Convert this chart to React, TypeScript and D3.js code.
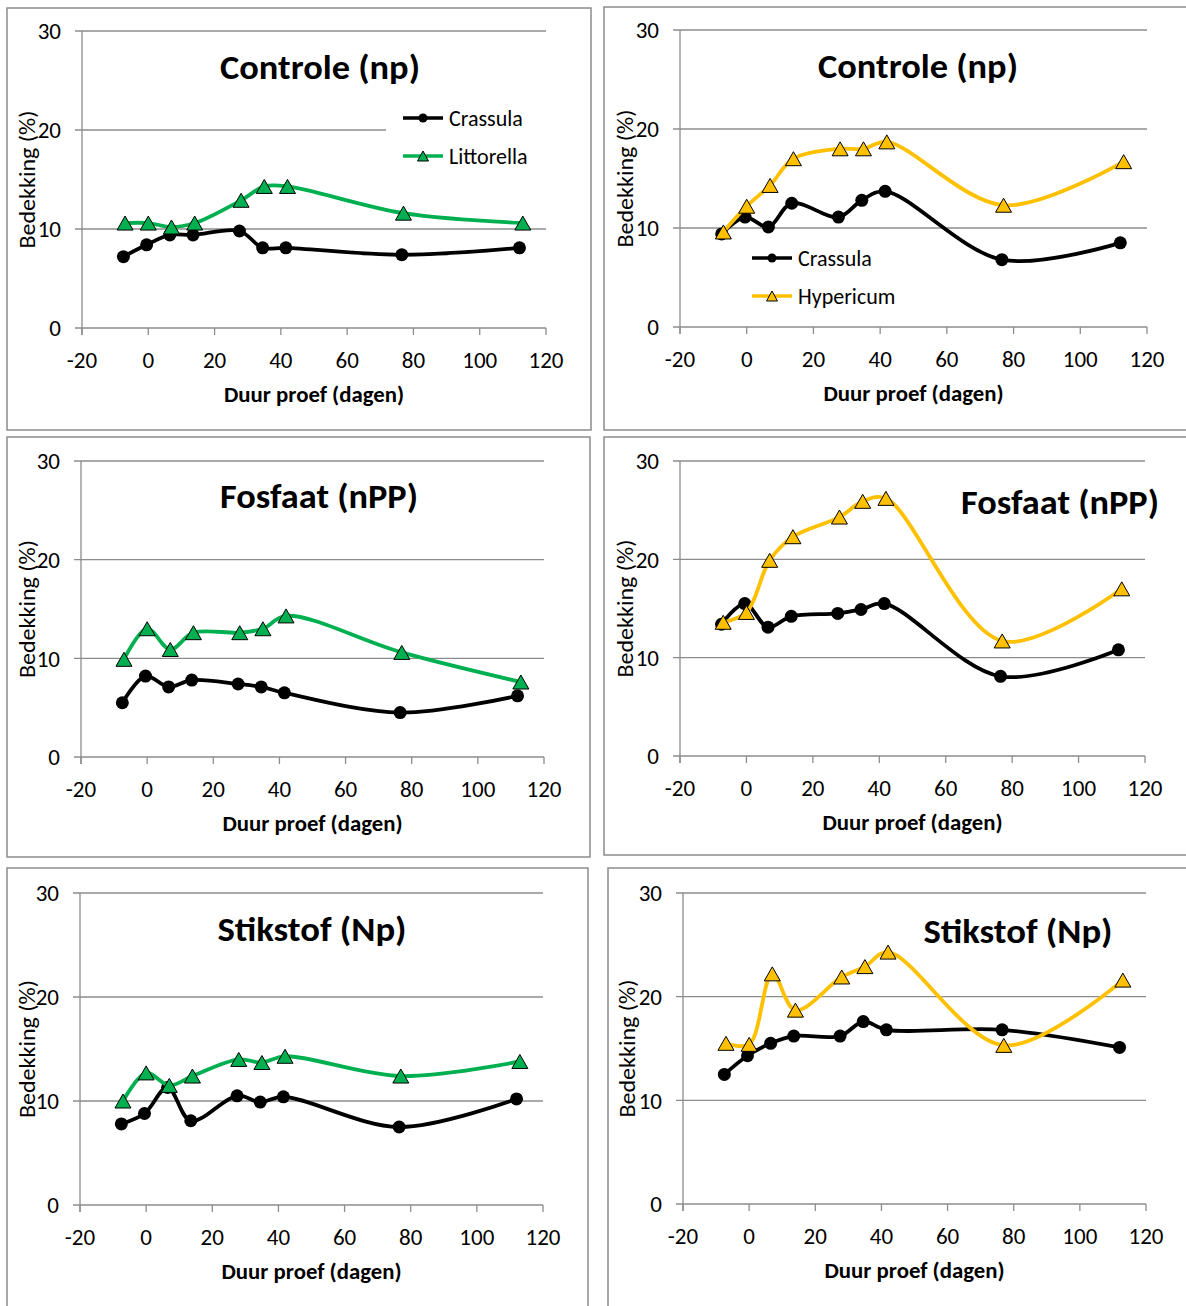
import React from "react";
import * as d3 from "d3";

// ---------- DATA ----------
const xTicks = [-20, 0, 20, 40, 60, 80, 100, 120];
const yTicks = [0, 10, 20, 30];
const daysCrassula = [-7.5, -0.5, 6.5, 13.5, 27.5, 34.5, 41.5, 76.5, 112];
const daysOther = [-7, 0, 7, 14, 28, 35, 42, 77, 113];

const controleLeftCrassula = [7.2, 8.4, 9.4, 9.4, 9.8, 8.1, 8.1, 7.4, 8.1];
const controleLeftLittorella = [10.6, 10.6, 10.2, 10.6, 12.9, 14.3, 14.3, 11.6, 10.6];
const controleRightCrassula = [9.4, 11.1, 10.1, 12.5, 11.1, 12.8, 13.7, 6.8, 8.5];
const controleRightHypericum = [9.6, 12.2, 14.3, 17.0, 18.0, 18.0, 18.7, 12.3, 16.7];
const fosfaatLeftCrassula = [5.5, 8.2, 7.1, 7.8, 7.4, 7.1, 6.5, 4.5, 6.2];
const fosfaatLeftLittorella = [9.9, 13.0, 10.9, 12.6, 12.6, 13.0, 14.3, 10.6, 7.6];
const fosfaatRightCrassula = [13.4, 15.5, 13.1, 14.2, 14.5, 14.9, 15.5, 8.1, 10.8];
const fosfaatRightHypericum = [13.6, 14.6, 19.9, 22.3, 24.3, 25.9, 26.2, 11.7, 17.0];
const stikstofLeftCrassula = [7.8, 8.8, 11.3, 8.1, 10.5, 9.9, 10.4, 7.5, 10.2];
const stikstofLeftLittorella = [10.0, 12.7, 11.5, 12.4, 14.0, 13.7, 14.3, 12.4, 13.8];
const stikstofRightCrassula = [12.5, 14.3, 15.5, 16.2, 16.2, 17.6, 16.8, 16.8, 15.1];
const stikstofRightHypericum = [15.5, 15.4, 22.2, 18.7, 21.9, 22.9, 24.3, 15.3, 21.6];

const titles = ["Controle (np)", "Controle (np)", "Fosfaat (nPP)", "Fosfaat (nPP)", "Stikstof (Np)", "Stikstof (Np)"];
const seriesNames = ["Crassula", "Littorella", "Hypericum"];
const xTitle = "Duur proef (dagen)";
const yTitle = "Bedekking (%)";

// ---------- STYLE ----------
const FONT = "Carlito, Calibri, Lato, 'Open Sans', sans-serif";
const GRID = "#8c8c8c";
const BORDER = "#8c8c8c";
const BLACK = "#000000";
const GREEN = "#00B050";
const AMBER = "#FFC000";

type PanelCfg = {
  box: { x: number; y: number; w: number; h: number };
  plot: { x0: number; x1: number; yTop: number; yBottom: number };
  title: string;
  titleX: number;
  titleY: number;
  titleW: number;
  yTitleX: number;
  crassula: number[];
  other: number[];
  otherName: string;
  otherColor: string;
  legend?: { x: number; y: number; bg: { x: number; y: number; w: number; h: number } };
};

const panels: PanelCfg[] = [
  {
    box: { x: 7, y: 8, w: 584, h: 422 },
    plot: { x0: 82, x1: 546, yTop: 31, yBottom: 328 },
    title: titles[0], titleX: 320, titleY: 79, titleW: 200, yTitleX: 27,
    crassula: controleLeftCrassula, other: controleLeftLittorella,
    otherName: seriesNames[1], otherColor: GREEN,
    legend: { x: 403, y: 118, bg: { x: 386, y: 100, w: 164, h: 74 } },
  },
  {
    box: { x: 604, y: 7, w: 600, h: 423 },
    plot: { x0: 680, x1: 1147, yTop: 30, yBottom: 327 },
    title: titles[1], titleX: 918, titleY: 78, titleW: 200, yTitleX: 625,
    crassula: controleRightCrassula, other: controleRightHypericum,
    otherName: seriesNames[2], otherColor: AMBER,
    legend: { x: 752, y: 258, bg: { x: 745, y: 240, w: 160, h: 74 } },
  },
  {
    box: { x: 7, y: 437, w: 583, h: 420 },
    plot: { x0: 81, x1: 544, yTop: 461, yBottom: 757 },
    title: titles[2], titleX: 319, titleY: 508, titleW: 198, yTitleX: 27,
    crassula: fosfaatLeftCrassula, other: fosfaatLeftLittorella,
    otherName: seriesNames[1], otherColor: GREEN,
  },
  {
    box: { x: 604, y: 437, w: 600, h: 418 },
    plot: { x0: 680, x1: 1145, yTop: 461, yBottom: 756 },
    title: titles[3], titleX: 1060, titleY: 514, titleW: 198, yTitleX: 625,
    crassula: fosfaatRightCrassula, other: fosfaatRightHypericum,
    otherName: seriesNames[2], otherColor: AMBER,
  },
  {
    box: { x: 7, y: 868, w: 581, h: 460 },
    plot: { x0: 80, x1: 543, yTop: 893, yBottom: 1205 },
    title: titles[4], titleX: 312, titleY: 941, titleW: 189, yTitleX: 27,
    crassula: stikstofLeftCrassula, other: stikstofLeftLittorella,
    otherName: seriesNames[1], otherColor: GREEN,
  },
  {
    box: { x: 608, y: 868, w: 600, h: 460 },
    plot: { x0: 683, x1: 1146, yTop: 893, yBottom: 1204 },
    title: titles[5], titleX: 1018, titleY: 943, titleW: 189, yTitleX: 627,
    crassula: stikstofRightCrassula, other: stikstofRightHypericum,
    otherName: seriesNames[2], otherColor: AMBER,
  },
];

function triPath(cx: number, cy: number, w: number, h: number) {
  return `M${cx},${cy - h / 2}L${cx + w / 2},${cy + h / 2}L${cx - w / 2},${cy + h / 2}Z`;
}

function Panel({ cfg }: { cfg: PanelCfg }) {
  const { plot, box } = cfg;
  const x = d3.scaleLinear().domain([-20, 120]).range([plot.x0, plot.x1]);
  const y = d3.scaleLinear().domain([0, 30]).range([plot.yBottom, plot.yTop]);
  const line = d3
    .line<[number, number]>()
    .x((d) => x(d[0]))
    .y((d) => y(d[1]))
    .curve(d3.curveCatmullRom.alpha(0.5));
  const crPts: [number, number][] = daysCrassula.map((d, i) => [d, cfg.crassula[i]]);
  const otPts: [number, number][] = daysOther.map((d, i) => [d, cfg.other[i]]);
  const yMid = (plot.yTop + plot.yBottom) / 2;

  return (
    <g>
      <rect x={box.x} y={box.y} width={box.w} height={box.h} fill="#fff" stroke={BORDER} strokeWidth={1.5} />
      {yTicks.map((t) => (
        <g key={"y" + t}>
          <line x1={plot.x0 - 7} x2={plot.x1} y1={y(t)} y2={y(t)} stroke={GRID} strokeWidth={1.3} />
          <text x={plot.x0 - 21} y={y(t)} dy="0.36em" textAnchor="end" fontFamily={FONT} fontSize={23} fill="#000">
            {t}
          </text>
        </g>
      ))}
      <line x1={plot.x0} x2={plot.x0} y1={plot.yTop} y2={plot.yBottom + 7} stroke={GRID} strokeWidth={1.3} />
      {xTicks.map((t) => (
        <g key={"x" + t}>
          <line x1={x(t)} x2={x(t)} y1={plot.yBottom} y2={plot.yBottom + 7} stroke={GRID} strokeWidth={1.3} />
          <text x={x(t)} y={plot.yBottom + 40} textAnchor="middle" fontFamily={FONT} fontSize={23} fill="#000">
            {t}
          </text>
        </g>
      ))}
      <text
        x={(plot.x0 + plot.x1) / 2}
        y={plot.yBottom + 74}
        textAnchor="middle"
        fontFamily={FONT}
        fontWeight="bold"
        fontSize={22}
        textLength={180}
        lengthAdjust="spacingAndGlyphs"
        fill="#000"
      >
        {xTitle}
      </text>
      <text
        transform={`translate(${cfg.yTitleX},${yMid}) rotate(-90)`}
        textAnchor="middle"
        dy="0.36em"
        fontFamily={FONT}
        fontSize={22}
        textLength={138}
        lengthAdjust="spacingAndGlyphs"
        fill="#000"
      >
        {yTitle}
      </text>
      <text
        x={cfg.titleX}
        y={cfg.titleY}
        textAnchor="middle"
        fontFamily={FONT}
        fontWeight="bold"
        fontSize={34}
        textLength={cfg.titleW}
        lengthAdjust="spacingAndGlyphs"
        fill="#000"
      >
        {cfg.title}
      </text>
      {cfg.legend && (
        <g>
          <rect x={cfg.legend.bg.x} y={cfg.legend.bg.y} width={cfg.legend.bg.w} height={cfg.legend.bg.h} fill="#fff" />
          <line x1={cfg.legend.x} x2={cfg.legend.x + 40} y1={cfg.legend.y} y2={cfg.legend.y} stroke={BLACK} strokeWidth={3.5} />
          <circle cx={cfg.legend.x + 20} cy={cfg.legend.y} r={4.5} fill={BLACK} />
          <text x={cfg.legend.x + 46} y={cfg.legend.y} dy="0.36em" fontFamily={FONT} fontSize={22} fill="#000">
            {seriesNames[0]}
          </text>
          <line x1={cfg.legend.x} x2={cfg.legend.x + 40} y1={cfg.legend.y + 38} y2={cfg.legend.y + 38} stroke={cfg.otherColor} strokeWidth={3.5} />
          <path d={triPath(cfg.legend.x + 20, cfg.legend.y + 38, 11, 10)} fill={cfg.otherColor} stroke="#000" strokeWidth={1} />
          <text x={cfg.legend.x + 46} y={cfg.legend.y + 38} dy="0.36em" fontFamily={FONT} fontSize={22} fill="#000">
            {cfg.otherName}
          </text>
        </g>
      )}
      <path d={line(crPts) || ""} fill="none" stroke={BLACK} strokeWidth={3.8} />
      {crPts.map((p, i) => (
        <circle key={"c" + i} cx={x(p[0])} cy={y(p[1])} r={6.5} fill={BLACK} />
      ))}
      <path d={line(otPts) || ""} fill="none" stroke={cfg.otherColor} strokeWidth={3.8} />
      {otPts.map((p, i) => (
        <path key={"t" + i} d={triPath(x(p[0]), y(p[1]), 16, 14)} fill={cfg.otherColor} stroke="#000" strokeWidth={1} />
      ))}
    </g>
  );
}

export default function App() {
  return (
    <svg width={1186} height={1306} style={{ position: "absolute", left: 0, top: 0, display: "block", background: "#fff" }}>
      <rect x={0} y={0} width={1186} height={1306} fill="#fff" />
      {panels.map((p, i) => (
        <Panel key={i} cfg={p} />
      ))}
    </svg>
  );
}
